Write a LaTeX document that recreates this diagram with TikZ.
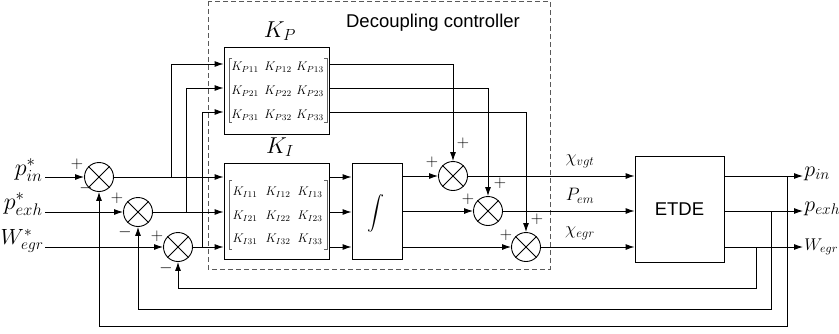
\RequirePackage{fix-cm}
\documentclass[tikz,border=0pt]{standalone}
\usepackage{fontspec}
\setsansfont{Liberation Sans}
\usetikzlibrary{arrows.meta,calc}
\newcommand{\fs}[1]{\fontsize{#1}{#1}\selectfont}
\begin{document}
\begin{tikzpicture}[x=1pt,y=-1pt,line width=0.9pt,
  arr/.style={-{Latex[length=9pt,width=6pt]}},
  sumnode/.style={circle,draw,minimum size=29pt,inner sep=0pt},
  blk/.style={draw,rectangle,inner sep=0pt},
  sgn/.style={inner sep=0pt,font=\fs{17}},
  lbl/.style={inner sep=0pt},
  entry/.style={inner sep=0pt,font=\fs{12.5}},
  brk/.style={line width=0.5pt,black!60}]
\useasboundingbox (0,0) rectangle (839,333);
% dashed controller frame
\draw[gray!70!black,line width=0.8pt,dash pattern=on 5pt off 3pt] (208,1) rectangle (550,269);
\node[lbl,font=\sffamily\fs{18.5}] (title) at (433,23) {Decoupling controller};

% blocks
\node[blk,minimum width=105pt,minimum height=87pt] (kp) at (276.5,90.5) {};
\node[blk,minimum width=105pt,minimum height=96pt] (ki) at (276.5,211) {};
\node[blk,minimum width=50pt,minimum height=96pt] (int) at (377,211) {};
\node[lbl,font=\normalsize,scale=1.7] (intl) at (376,213) {$\displaystyle\int$};
\node[blk,minimum width=89pt,minimum height=106pt,font=\sffamily\fs{18.5}] (etde) at (679.5,209) {ETDE};
\node[lbl,font=\fs{23}] (kpl) at (280,31) {$K_P$};
\node[lbl,font=\fs{23}] (kil) at (280,147) {$K_I$};

% matrix entries
\foreach \r/\yp/\yi in {1/67/192, 2/91/216, 3/115/239}{
  \foreach \c/\x in {1/245, 2/278, 3/310}{
    \node[entry] (kp\r\c) at (\x,\yp) {$K_{P\r\c}$};
    \node[entry] (ki\r\c) at (\x,\yi) {$K_{I\r\c}$};
  }}
% brackets
\draw[brk] (232,58) -- (229,58) -- (229,122) -- (232,122);
\draw[brk] (324,58) -- (327,58) -- (327,122) -- (324,122);
\draw[brk] (232,180) -- (229,180) -- (229,249) -- (232,249);
\draw[brk] (324,180) -- (327,180) -- (327,249) -- (324,249);

% summing junctions
\node[sumnode] (s1) at (99,177) {};
\node[sumnode] (s2) at (138,212) {};
\node[sumnode] (s3) at (178,247) {};
\node[sumnode] (s4) at (453,176) {};
\node[sumnode] (s5) at (488,211) {};
\node[sumnode] (s6) at (526,247) {};
\foreach \s in {s1,s2,s3,s4,s5,s6}{
  \draw[line width=0.8pt] (\s.north west) -- (\s.south east) (\s.north east) -- (\s.south west);}

% inputs
\coordinate (in1) at (45,177);
\coordinate (in2) at (45,212);
\coordinate (in3) at (45,247);
\node[lbl,anchor=east,font=\fs{24}] (lin1) at (43,170) {$p_{in}^{*}$};
\node[lbl,anchor=east,font=\fs{24}] (lin2) at (43,204) {$p_{exh}^{*}$};
\node[lbl,anchor=east,font=\fs{22}] (lin3) at (44,241) {$W_{egr}^{*}$};
\draw[arr] (in1) -- (s1.west);
\draw[arr] (in2) -- (s2.west);
\draw[arr] (in3) -- (s3.west);

% signs
\node[sgn] at (77,164) {$+$};
\node[sgn] at (86,188) {$-$};
\node[sgn] at (117,198) {$+$};
\node[sgn] at (125,232) {$-$};
\node[sgn] at (157,236) {$+$};
\node[sgn] at (166,268) {$-$};
\node[sgn] at (432,162) {$+$};
\node[sgn] at (463,143) {$+$};
\node[sgn] at (468,199) {$+$};
\node[sgn] at (500,183) {$+$};
\node[sgn] at (506,235) {$+$};
\node[sgn] at (537,219) {$+$};

% errors into KI and KP
\coordinate (b1) at (171,177);
\coordinate (b2) at (186,212);
\coordinate (b3) at (202,247);
\coordinate (rp1) at (0,64);
\coordinate (rp2) at (0,88);
\coordinate (rp3) at (0,112);
\coordinate (ri1) at (0,177);
\coordinate (ri2) at (0,212);
\coordinate (ri3) at (0,247);
\draw[arr] (s1.east) -- (ki.west |- ri1);
\draw[arr] (s2.east) -- (ki.west |- ri2);
\draw[arr] (s3.east) -- (ki.west |- ri3);
\draw[arr] (b1) |- (kp.west |- rp1);
\draw[arr] (b2) |- (kp.west |- rp2);
\draw[arr] (b3) |- (kp.west |- rp3);

% KI -> integrator
\draw[arr] (ki.east |- ri1) -- (int.west |- ri1);
\draw[arr] (ki.east |- ri2) -- (int.west |- ri2);
\draw[arr] (ki.east |- ri3) -- (int.west |- ri3);

% integrator -> sums
\draw[arr] (int.east |- s4) -- (s4.west);
\draw[arr] (int.east |- s5) -- (s5.west);
\draw[arr] (int.east |- s6) -- (s6.west);

% KP -> sums
\draw[arr] (kp.east |- rp1) -| (s4.north);
\draw[arr] (kp.east |- rp2) -| (s5.north);
\draw[arr] (kp.east |- rp3) -| (s6.north);

% sums -> ETDE
\draw[arr] (s4.east) -- (etde.west |- s4);
\draw[arr] (s5.east) -- (etde.west |- s5);
\draw[arr] (s6.east) -- (etde.west |- s6);
\node[lbl,font=\fs{18}] (u1) at (580,161) {$\chi_{vgt}$};
\node[lbl,font=\fs{18}] (u2) at (580,196) {$P_{em}$};
\node[lbl,font=\fs{18}] (u3) at (580,233) {$\chi_{egr}$};

% outputs
\coordinate (o1) at (803,176);
\coordinate (o2) at (803,211);
\coordinate (o3) at (803,247);
\draw[arr] (etde.east |- o1) -- (o1);
\draw[arr] (etde.east |- o2) -- (o2);
\draw[arr] (etde.east |- o3) -- (o3);
\node[lbl,anchor=west,font=\fs{22}] (lo1) at (804,174) {$p_{in}$};
\node[lbl,anchor=west,font=\fs{22}] (lo2) at (804,209) {$p_{exh}$};
\node[lbl,anchor=west,font=\fs{17}] (lo3) at (804,247) {$W_{egr}$};

% feedback
\coordinate (f1) at (787,176);
\coordinate (f2) at (771,211);
\coordinate (f3) at (756,247);
\coordinate (g1) at (0,326);
\coordinate (g2) at (0,309);
\coordinate (g3) at (0,288);
\draw[arr] (f1) -- (f1 |- g1) -- (s1 |- g1) -- (s1.south);
\draw[arr] (f2) -- (f2 |- g2) -- (s2 |- g2) -- (s2.south);
\draw[arr] (f3) -- (f3 |- g3) -- (s3 |- g3) -- (s3.south);
\end{tikzpicture}
\end{document}
